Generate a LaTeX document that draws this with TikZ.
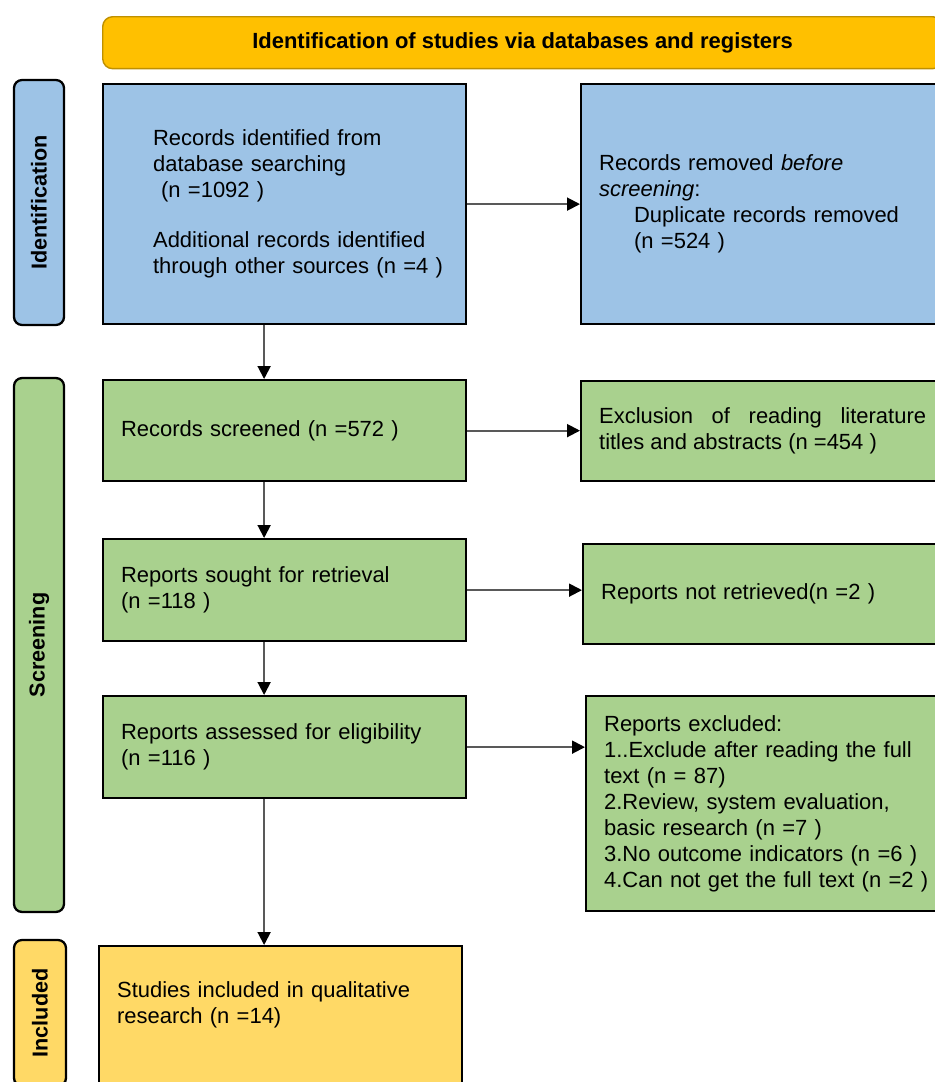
\documentclass[tikz,border=0pt]{standalone}
\usepackage{fontspec}
\setmainfont{Liberation Sans}
\usetikzlibrary{arrows.meta}

\definecolor{idblue}{HTML}{9DC3E6}
\definecolor{scrgreen}{HTML}{A9D18E}
\definecolor{incyellow}{HTML}{FFD966}
\definecolor{headorange}{HTML}{FFC000}
\definecolor{headline}{HTML}{BF9000}

\begin{document}
\begin{tikzpicture}[x=0.02cm, y=-0.02cm,
  >={Triangle[length=0.26cm, width=0.26cm, color=black]},
  box/.style={draw=black, line width=1.3pt, anchor=north west, align=left,
    inner xsep=0.36cm, inner ysep=0pt, text width=6.54cm,
    font=\fontsize{12.5}{14.8}\selectfont},
  side/.style={draw=black, line width=1.3pt, rounded corners=0.16cm, rotate=90,
    minimum height=1cm, inner sep=0pt, font=\bfseries\fontsize{12.3}{14}\selectfont},
  arr/.style={->, draw=black!65, line width=1.1pt}]

% --- Parameters ---
\def\dx{-0.41cm}   % shift of the vertical arrows
\useasboundingbox (0,0) rectangle (935,1082);
\clip (0,0) rectangle (935,1082);

% --- Header ---
\node[draw=headline, fill=headorange, line width=0.8pt, rounded corners=0.2cm,
  anchor=north west, minimum width=16.8cm, minimum height=1.04cm,
  font=\bfseries\fontsize{12.5}{14}\selectfont] (head) at (102,16)
  {Identification of studies via databases and registers};

% --- Side labels ---
\node[side, fill=idblue, minimum width=4.9cm] (idlab) at (39,202.5) {Identification};
\node[side, fill=scrgreen, minimum width=10.68cm] (scrlab) at (39,645) {Screening};
\node[side, fill=incyellow, minimum width=2.92cm, minimum height=1.04cm] (inclab) at (40,1013) {Included};

% --- Identification ---
\node[box, fill=idblue, minimum height=4.8cm] (idbox) at (102,83)
  {\leftskip=0.64cm Records identified from\\database searching\\
   \hspace*{0.16cm}(n =1092 )\\[0.48cm]
   Additional records identified\\through other sources (n =4 )\par};
\node[box, fill=idblue, minimum height=4.8cm] (rmbox) at (580,83)
  {Records removed \textit{before}\\\textit{screening}:\\
   \hspace*{0.7cm}Duplicate records removed\\\hspace*{0.7cm}(n =524 )};

% --- Screening ---
\node[box, fill=scrgreen, minimum height=2.02cm] (scrbox) at (102,379)
  {Records screened (n =572 )};
\node[box, fill=scrgreen, minimum height=2cm, align=justify] (exbox) at (580,380)
  {Exclusion of reading literature\linebreak titles and abstracts (n =454 )};

\node[box, fill=scrgreen, minimum height=2.04cm] (soughtbox) at (102,538)
  {Reports sought for retrieval\\(n =118 )};
\node[box, fill=scrgreen, minimum height=2cm] (notretbox) at (582,543)
  {Reports not retrieved(n =2 )};

\node[box, fill=scrgreen, minimum height=2.04cm] (assessbox) at (102,695)
  {Reports assessed for eligibility\\(n =116 )};
\node[box, fill=scrgreen, minimum height=4.3cm] (exclbox) at (585,695)
  {Reports excluded:\\1..Exclude after reading the full\\text (n = 87)\\
   2.Review, system evaluation,\\basic research (n =7 )\\
   3.No outcome indicators (n =6 )\\4.Can not get the full text (n =2 )\\[0.2cm]};

% --- Included ---
\node[box, fill=incyellow, inner ysep=0.7cm, text depth=2cm] (incbox) at (98,945)
  {Studies included in qualitative\\research (n =14)};

% --- Arrows ---
\draw[arr] (idbox.east) -- (rmbox.west);
\draw[arr] (scrbox.east) -- (scrbox.east -| exbox.west);
\draw[arr] (soughtbox.east) -- (soughtbox.east -| notretbox.west);
\draw[arr] (assessbox.east) -- (assessbox.east -| exclbox.west);
\foreach \a/\b in {idbox/scrbox, scrbox/soughtbox, soughtbox/assessbox, assessbox/incbox}
  \draw[arr] ([xshift=\dx]\a.south) -- ([xshift=\dx]\a.south |- \b.north);

\end{tikzpicture}
\end{document}
